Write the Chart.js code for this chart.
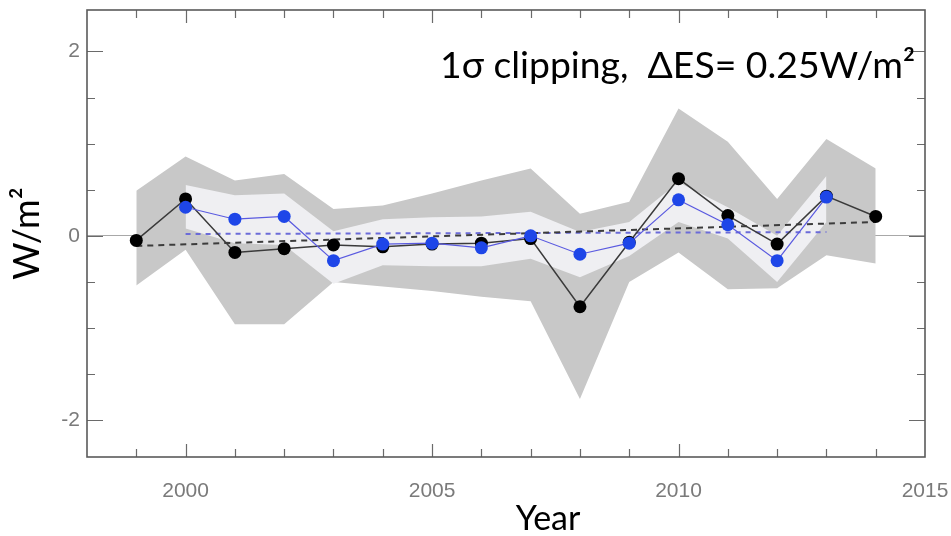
<!DOCTYPE html>
<html>
<head>
<meta charset="utf-8">
<script src="https://cdn.jsdelivr.net/npm/chart.js@4.4.1/dist/chart.umd.min.js"></script>
<style>
  html, body { margin: 0; padding: 0; background: #ffffff; }
  #wrap { width: 951px; height: 536px; }
</style>
</head>
<body>
<div id="wrap"><canvas id="esChart" width="951" height="536"></canvas></div>
<script>
// years of the yearly anomalies
const years = [1999, 2000, 2001, 2002, 2003, 2004, 2005, 2006, 2007, 2008, 2009, 2010, 2011, 2012, 2013, 2014];
const blackVals = [-0.05, 0.40, -0.18, -0.14, -0.10, -0.12, -0.09, -0.08, -0.03, -0.77, -0.07, 0.62, 0.22, -0.09, 0.43, 0.21];

// blue series (clipped)
const blueYears = [2000, 2001, 2002, 2003, 2004, 2005, 2006, 2007, 2008, 2009, 2010, 2011, 2012, 2013];
const blueVals = [0.31, 0.18, 0.21, -0.27, -0.09, -0.08, -0.13, 0.00, -0.20, -0.08, 0.39, 0.12, -0.27, 0.42];

// outer (dark grey) spread
const darkUpper = [0.49, 0.86, 0.60, 0.67, 0.29, 0.33, 0.46, 0.60, 0.73, 0.24, 0.37, 1.38, 1.02, 0.40, 1.05, 0.73];
const darkLower = [-0.54, -0.15, -0.96, -0.96, -0.50, -0.55, -0.60, -0.66, -0.71, -1.77, -0.50, -0.18, -0.58, -0.57, -0.21, -0.30];

// inner (light) spread, on blueYears
const lightUpper = [0.55, 0.44, 0.46, 0.05, 0.18, 0.20, 0.21, 0.26, 0.04, 0.15, 0.58, 0.31, 0.00, 0.65];
const lightLower = [0.08, -0.08, -0.10, -0.52, -0.32, -0.33, -0.33, -0.25, -0.45, -0.22, 0.15, -0.03, -0.50, 0.15];

// linear trends (dashed)
const blackTrendX = [1999, 2014];
const blackTrendY = [-0.11, 0.15];
const blueTrendX = [2000, 2013];
const blueTrendY = [0.02, 0.04];

// axes
const xTickVals = [1998, 1999, 2000, 2001, 2002, 2003, 2004, 2005, 2006, 2007, 2008, 2009, 2010, 2011, 2012, 2013, 2014, 2015];
const xLabelVals = [2000, 2005, 2010, 2015];
const yTickVals = [-2, -1.5, -1, -0.5, 0, 0.5, 1, 1.5, 2];
const yLabelVals = [-2, 0, 2];

const pts = (xs, ys) => xs.map((x, i) => ({ x: x, y: ys[i] }));

// frame + inward ticks like the original figure
const frameTicks = {
    id: 'frameTicks',
    afterDatasetsDraw(chart) {
        const { ctx, chartArea: a, scales: { x, y } } = chart;
        ctx.save();
        ctx.strokeStyle = '#6a6a6a';
        ctx.lineWidth = 1.2;
        ctx.beginPath();
        xTickVals.forEach(v => {
            if (v === 1998 || v === 2015) return;
            const px = Math.round(x.getPixelForValue(v)) + 0.5;
            const len = v % 5 === 0 ? 13 : 8;
            ctx.moveTo(px, a.bottom); ctx.lineTo(px, a.bottom - len);
            ctx.moveTo(px, a.top); ctx.lineTo(px, a.top + len);
        });
        yTickVals.forEach(v => {
            const py = Math.round(y.getPixelForValue(v)) + 0.5;
            const len = v % 2 === 0 ? 16 : 8;
            ctx.moveTo(a.left, py); ctx.lineTo(a.left + len, py);
            ctx.moveTo(a.right, py); ctx.lineTo(a.right - len, py);
        });
        ctx.stroke();
        ctx.lineWidth = 1.6;
        ctx.strokeStyle = '#5a5a5a';
        ctx.strokeRect(a.left, a.top, a.right - a.left, a.bottom - a.top);
        ctx.restore();
    }
};

// annotation and x title
const textLabels = {
    id: 'textLabels',
    afterDraw(chart) {
        const ctx = chart.ctx;
        ctx.save();
        ctx.fillStyle = '#000000';
        ctx.textBaseline = 'alphabetic';
        const note = '1\u03c3 clipping,  \u0394ES= 0.25W/m\u00b2';
        ctx.font = '100px Lato, "Open Sans", sans-serif';
        const size = 100 * 475 / ctx.measureText(note).width;
        ctx.font = size.toFixed(1) + 'px Lato, "Open Sans", sans-serif';
        ctx.textAlign = 'left';
        ctx.fillText(note, 440, 78);
        ctx.font = '34px Lato, "Open Sans", sans-serif';
        ctx.textAlign = 'center';
        ctx.fillText('Year', 548, 530);
        ctx.restore();
    }
};

const ctx = document.getElementById('esChart').getContext('2d');
const chart = new Chart(ctx, {
    type: 'line',
    data: {
        datasets: [
            { data: pts(years, darkUpper), fill: '+1', backgroundColor: '#c8c8c8', borderWidth: 0, pointRadius: 0, order: 8 },
            { data: pts(years, darkLower), fill: false, borderWidth: 0, pointRadius: 0, order: 8 },
            { data: pts(blueYears, lightUpper), fill: '+1', backgroundColor: '#efeff2', borderWidth: 0, pointRadius: 0, order: 6 },
            { data: pts(blueYears, lightLower), fill: false, borderWidth: 0, pointRadius: 0, order: 6 },
            { data: pts(blackTrendX, blackTrendY), borderColor: '#3c3c3c', borderWidth: 2, borderDash: [6, 5], pointRadius: 0, fill: false, order: 4 },
            { data: pts(blueTrendX, blueTrendY), borderColor: '#6b6bd8', borderWidth: 2, borderDash: [5, 5], pointRadius: 0, fill: false, order: 4 },
            { data: pts(years, blackVals), borderColor: '#3a3a3a', borderWidth: 1.5, pointRadius: 6.5, pointBackgroundColor: '#000000', pointBorderWidth: 0, fill: false, order: 2 },
            { data: pts(blueYears, blueVals), borderColor: '#5a5ae0', borderWidth: 1.2, pointRadius: 6.5, pointBackgroundColor: '#1e46e8', pointBorderWidth: 0, fill: false, order: 1 }
        ]
    },
    options: {
        responsive: false,
        animation: false,
        devicePixelRatio: 1,
        layout: { padding: { top: 10, right: 26, left: 0, bottom: 0 } },
        plugins: {
            legend: { display: false },
            tooltip: { enabled: false }
        },
        scales: {
            x: {
                type: 'linear',
                min: 1998,
                max: 2015,
                afterBuildTicks: s => { s.ticks = xTickVals.map(v => ({ value: v })); },
                afterFit: s => { s.height = 79; s.paddingLeft = 0; s.paddingRight = 0; },
                grid: { display: false, drawTicks: false },
                border: { display: false },
                ticks: {
                    autoSkip: false,
                    maxRotation: 0,
                    padding: 22,
                    color: '#7a7a7a',
                    font: { family: '"Liberation Sans", Arial, sans-serif', size: 21 },
                    callback: v => xLabelVals.includes(v) ? String(v) : ''
                }
            },
            y: {
                min: -2.4,
                max: 2.45,
                afterBuildTicks: s => { s.ticks = yTickVals.map(v => ({ value: v })); },
                afterFit: s => { s.width = 87; s.paddingTop = 0; s.paddingBottom = 0; },
                grid: {
                    drawTicks: false,
                    lineWidth: 1,
                    color: c => c.tick && c.tick.value === 0 ? '#a8a8a8' : 'rgba(0,0,0,0)'
                },
                border: { display: false },
                ticks: {
                    padding: 7,
                    color: '#7a7a7a',
                    font: { family: '"Liberation Sans", Arial, sans-serif', size: 21 },
                    callback: v => yLabelVals.includes(v) ? String(v) : ''
                },
                title: {
                    display: true,
                    text: 'W/m\u00b2',
                    color: '#000000',
                    padding: { top: 6, bottom: 0 },
                    font: { family: 'Lato, "Open Sans", sans-serif', size: 36 }
                }
            }
        }
    },
    plugins: [frameTicks, textLabels]
});
</script>
</body>
</html>
